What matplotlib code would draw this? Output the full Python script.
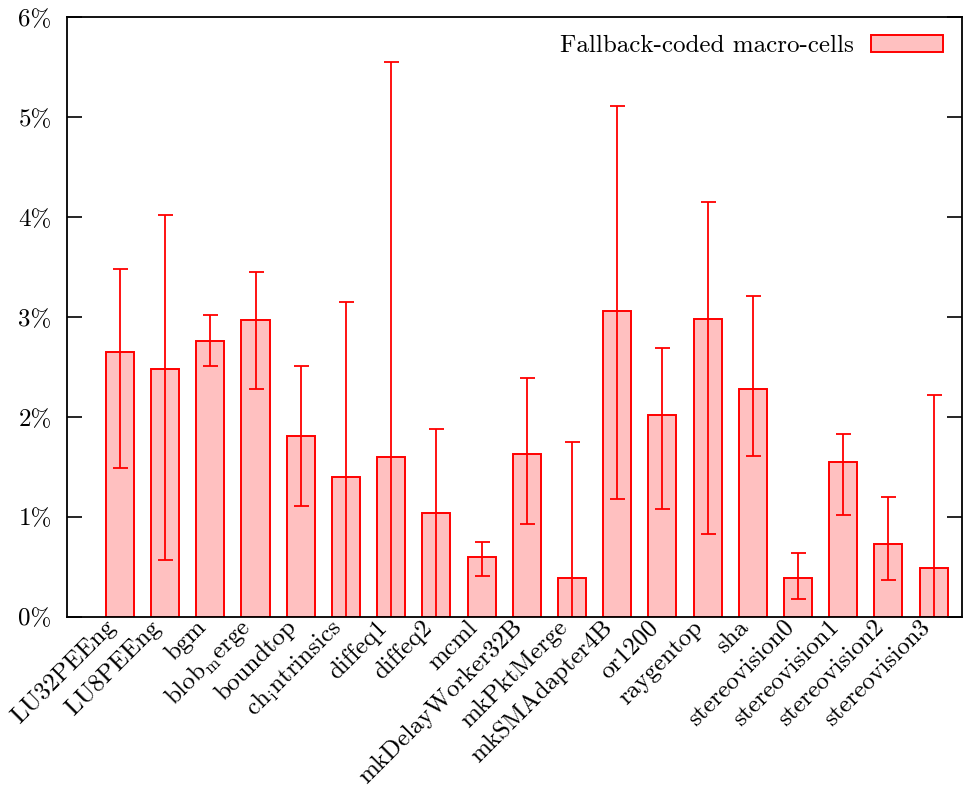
import matplotlib
matplotlib.use('Agg')
import matplotlib.pyplot as plt
import numpy as np

plt.rcParams['font.family'] = 'cmr10'
plt.rcParams['mathtext.fontset'] = 'cm'
plt.rcParams['axes.formatter.use_mathtext'] = True

# benchmark names (gnuplot enhanced text: "_m" subscripts one letter)
circuits = ['LU32PEEng', 'LU8PEEng', 'bgm', r'blob$_\mathrm{m}$erge', 'boundtop',
            r'ch$_\mathrm{i}$ntrinsics', 'diffeq1', 'diffeq2', 'mcml',
            'mkDelayWorker32B', 'mkPktMerge', 'mkSMAdapter4B', 'or1200',
            'raygentop', 'sha', 'stereovision0', 'stereovision1',
            'stereovision2', 'stereovision3']

# percentage of fallback-coded macro-cells, with low/high error ends
fallback = [2.65, 2.48, 2.76, 2.97, 1.81, 1.40, 1.60, 1.04, 0.60, 1.63,
            0.39, 3.06, 2.02, 2.98, 2.28, 0.39, 1.55, 0.73, 0.49]
err_low = [1.49, 0.57, 2.51, 2.28, 1.11, -0.5, -0.5, -0.5, 0.41, 0.93,
           -0.5, 1.18, 1.08, 0.83, 1.61, 0.18, 1.02, 0.37, -0.5]
err_high = [3.48, 4.02, 3.02, 3.45, 2.51, 3.15, 5.55, 1.88, 0.75, 2.39,
            1.75, 5.11, 2.69, 4.15, 3.21, 0.64, 1.83, 1.20, 2.22]

y_ticks = [0, 1, 2, 3, 4, 5, 6]
y_labels = ['0%', '1%', '2%', '3%', '4%', '5%', '6%']

x = np.arange(len(circuits))
vals = np.array(fallback)
yerr = [vals - np.array(err_low), np.array(err_high) - vals]

fs = 18.0

fig = plt.figure(figsize=(9.64, 7.88), dpi=100)
ax = fig.add_axes([0.0695, 0.217, 0.9285, 0.761])

ax.bar(x, vals, width=0.62, color='#ffc0c0', edgecolor='red', linewidth=1.4,
       label='Fallback-coded macro-cells', zorder=2)
ax.errorbar(x, vals, yerr=yerr, fmt='none', ecolor='red', elinewidth=1.3,
            capsize=5.4, capthick=1.3, zorder=3)

ax.set_xlim(-1.17, 18.63)
ax.set_ylim(0, 6)
ax.set_yticks(y_ticks)
ax.set_yticklabels(y_labels, fontsize=fs)
ax.set_xticks(x - 0.17)
ax.set_xticklabels(circuits, rotation=45, ha='right', va='center',
                   rotation_mode='anchor', fontsize=fs)

ax.tick_params(axis='y', direction='in', length=11, width=1.2, right=True,
               pad=11)
ax.tick_params(axis='x', direction='in', length=10, width=1.2, top=False,
               pad=5, color='#200000')
for t in ax.xaxis.get_major_ticks():
    t.tick1line.set_zorder(5)
    t.label1.set_x(t.label1.get_position()[0])
for s in ax.spines.values():
    s.set_linewidth(1.3)
    s.set_zorder(6)

ax.legend(loc='upper right', frameon=False, markerfirst=False, fontsize=fs,
          handlelength=2.9, handleheight=0.63, handletextpad=0.65,
          borderpad=0, borderaxespad=0, bbox_to_anchor=(0.9788, 0.97))

fig.savefig('out.png', dpi=100)
